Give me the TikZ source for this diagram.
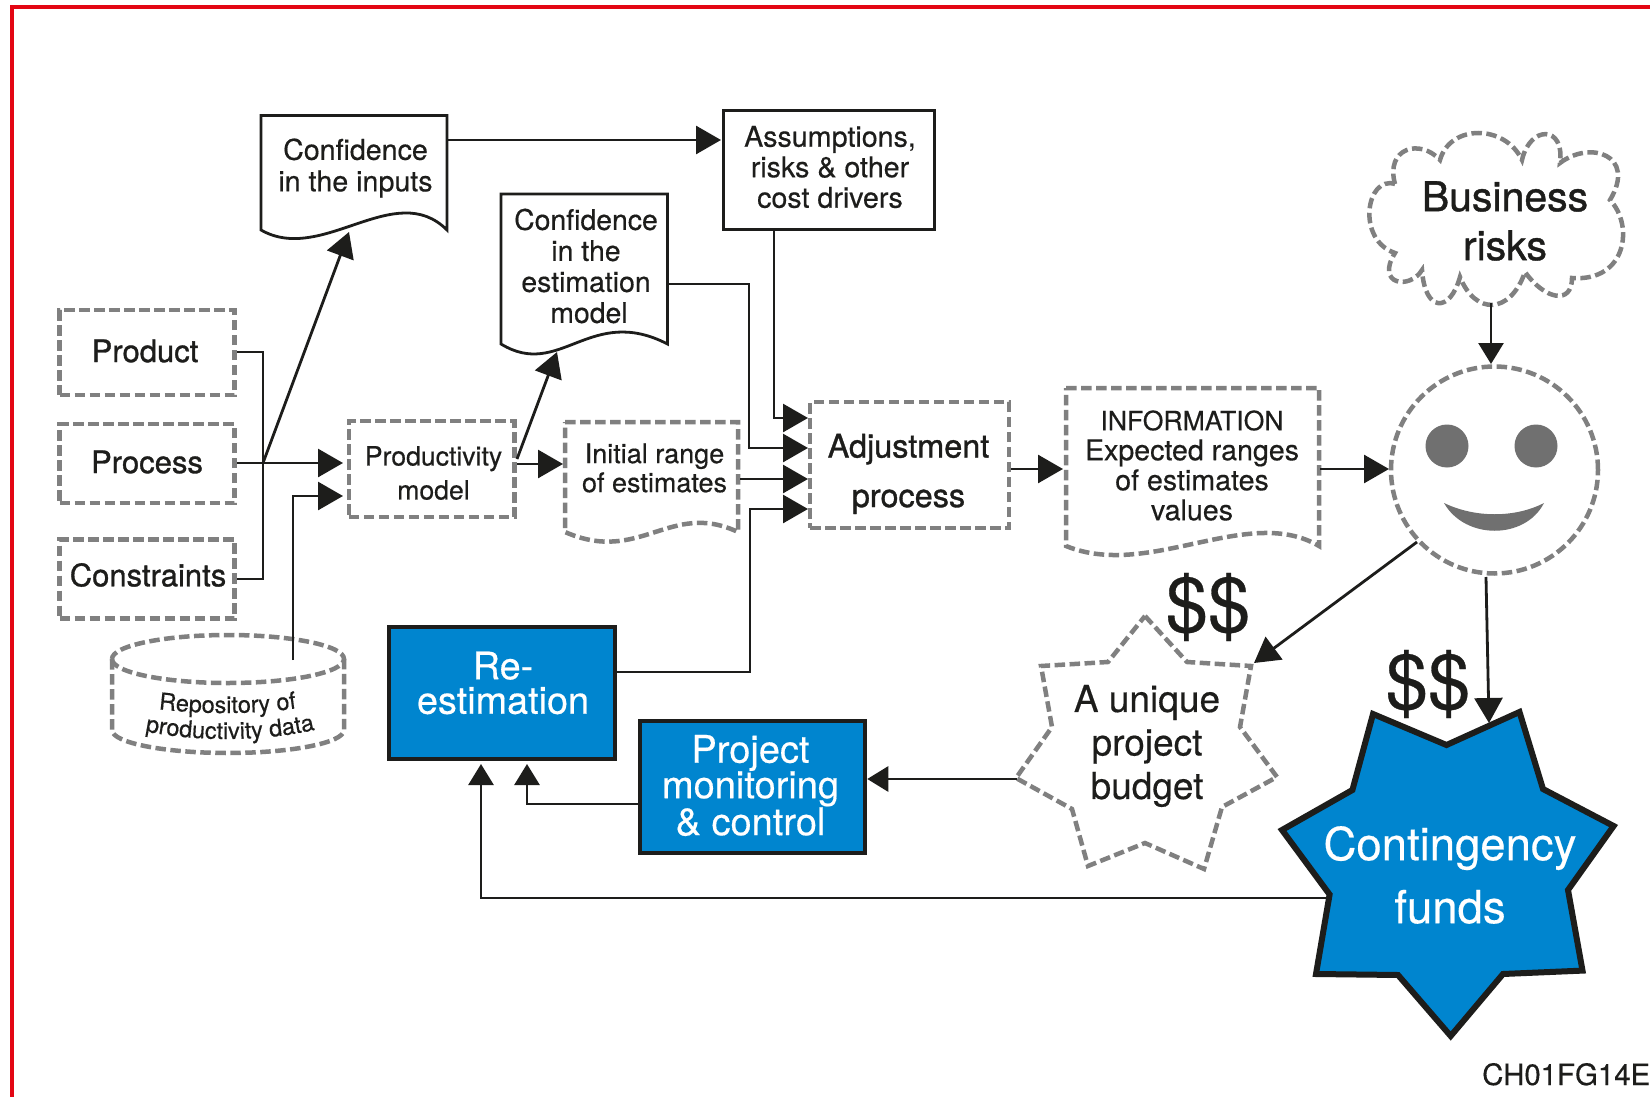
\documentclass[tikz,border=0pt]{standalone}
\usepackage{fontspec}
\setmainfont{TeX Gyre Heros}[FakeBold=0.4]
\newfontfamily\strongfont{TeX Gyre Heros}[FakeBold=1.0]
\usetikzlibrary{arrows.meta,decorations.text,calc}
\definecolor{ink}{HTML}{1D1D1B}
\definecolor{dashgray}{HTML}{808080}
\definecolor{facegray}{HTML}{707070}
\definecolor{boxblue}{HTML}{0085CF}
\definecolor{framered}{HTML}{E30613}
\newcommand{\fs}[2]{\fontsize{#1}{#2}\selectfont}
\tikzset{
  dashline/.style={draw=dashgray,line width=4.5pt,dash pattern=on 10.5pt off 4.5pt},
  dashbox/.style={dashline,rectangle,inner sep=0pt,text=ink,align=center},
  solidbox/.style={draw=ink,line width=3pt,fill=white,rectangle,inner sep=0pt},
  bluebox/.style={draw=ink,line width=4.5pt,fill=boxblue,rectangle,inner sep=0pt,text=white,align=center},
  txt/.style={inner sep=0pt,text=ink,align=center},
  wht/.style={inner sep=0pt,text=white,align=center},
  wire/.style={draw=ink,line width=2.8pt},
  arr/.style={wire,-{Triangle[length=25pt,width=28pt]}},
  arrs/.style={wire,-{Triangle[length=21pt,width=25pt]}},
  docline/.style={draw=ink,line width=2.8pt,fill=white,line join=miter}
}
\begin{document}
\begin{tikzpicture}[x=1pt,y=-1pt,line join=miter]
\useasboundingbox (0,0) rectangle (1650,1097);
\fill[white] (0,0) rectangle (1650,1097);
\draw[framered,line width=3.4pt] (12,1097) -- (12,7) -- (1650,7);

% dashed input boxes
\node[dashbox,minimum width=175pt,minimum height=85pt] (product) at (147,352.5) {};
\node[txt,font=\strongfont\fs{31}{36}] (producttext) at (145,351) {Product};
\node[dashbox,minimum width=175pt,minimum height=79pt] (process) at (147,463.5) {};
\node[txt,font=\strongfont\fs{31}{36}] (processtext) at (147,462) {Process};
\node[dashbox,minimum width=175pt,minimum height=79pt] (constraints) at (147,579) {};
\node[txt,font=\strongfont\fs{31}{36}] (constraintstext) at (148,575) {Constraints};
\node[dashbox,minimum width=165.5pt,minimum height=96pt] (prodmodel) at (431.7,469) {};
\node[txt,font=\fs{26.6}{34}] (prodmodeltext) at (433.5,473) {Productivity\\model};
\node[dashbox,minimum width=199pt,minimum height=126pt] (adjust) at (909.5,465) {};
\node[txt,font=\strongfont\fs{32.4}{49.5}] (adjusttext) at (908.5,474) {Adjustment\\process};
\node[solidbox,minimum width=211pt,minimum height=118pt] (assump) at (828.5,170) {};
\node[txt,font=\fs{28.6}{30.5}] (assumptext) at (830,167) {Assumptions,\\risks \& other\\cost drivers};

% repository cylinder
\draw[dashline] (112,659) arc[start angle=180,end angle=-180,x radius=116,y radius=24];
\draw[dashline] (112,659) -- (112,730) arc[start angle=180,end angle=0,x radius=116,y radius=23] -- (344,659);
\coordinate (repoout) at (293,660);
\path[decorate,decoration={text along path,text align=center,text={|\fs{23.5}{26}\color{ink}|Repository of}}]
  (130,705) .. controls (190,716) and (270,716) .. (325,703);
\path[decorate,decoration={text along path,text align=center,text={|\fs{23.5}{26}\color{ink}|productivity data}}]
  (130,728) .. controls (190,743) and (270,743) .. (330,726);

% document shapes
\draw[docline] (261,115.5) -- (447,115.5) -- (447,230) .. controls (395,178) and (322,265) .. (261,230) -- cycle;
\node[txt,font=\fs{28.6}{31.5}] (confin) at (355.5,168) {Confidence\\in the inputs};
\coordinate (confinR) at (447,140);
\coordinate (confinB) at (349,232);
\draw[docline] (501,194) -- (667.5,194) -- (667.5,344) .. controls (590,304) and (560,380) .. (501,344) -- cycle;
\node[txt,font=\fs{28.4}{31}] (confest) at (586,266) {Confidence\\in the\hspace{7pt}\\estimation\\\hspace{6pt}model};
\coordinate (confestR) at (667.5,284);
\coordinate (confestB) at (557,352);
\draw[dashline] (565,422) -- (738,422) -- (738,532) .. controls (670,500) and (640,565) .. (565,532) -- cycle;
\node[txt,font=\fs{27}{29}] (initial) at (654.5,468) {Initial range\\of estimates};
\coordinate (initialL) at (563,464);
\coordinate (initialR) at (740,479);
\draw[dashline] (1066,388) -- (1319,388) -- (1319,546) .. controls (1248,504) and (1149,580) .. (1066,546) -- cycle;
\node[txt,font=\fs{28.6}{30}] (info) at (1192,465.5) {{\fontsize{26.6}{30}\selectfont INFORMATION}\\Expected ranges\\of estimates\\values};
\coordinate (infoL) at (1063,469);
\coordinate (infoR) at (1320,469);

% cloud
\draw[dashline] (1395,184) .. controls (1385,148) and (1420,138) .. (1440,160)
 .. controls (1450,124) and (1505,124) .. (1522,160)
 .. controls (1530,125) and (1565,125) .. (1560,163)
 .. controls (1590,140) and (1637,155) .. (1610,200)
 .. controls (1634,225) and (1627,282) .. (1572,278)
 .. controls (1572,305) and (1545,300) .. (1525,272)
 .. controls (1510,315) and (1475,315) .. (1460,277)
 .. controls (1450,313) and (1425,313) .. (1422,270)
 .. controls (1410,290) and (1375,285) .. (1395,253)
 .. controls (1356,240) and (1366,175) .. (1395,184);
\node[txt,font=\strongfont\fs{41}{49}] (risks) at (1505,221) {Business\\risks};
\coordinate (risksB) at (1491,303);

% smiley
\node[circle,dashline,minimum size=207pt,inner sep=0pt] (face) at (1494.5,470) {};
\fill[facegray] (1447,446) circle[radius=21.5];
\fill[facegray] (1536,446) circle[radius=21.5];
\fill[facegray] (1444,503) .. controls (1475,518) and (1515,518) .. (1544,503) .. controls (1525,540) and (1465,540) .. (1444,503) -- cycle;
\coordinate (faceT) at (1491,364);
\coordinate (faceL) at (1389,469);
\coordinate (faceSW) at (1417,542);
\coordinate (faceS) at (1486,577);

% budget star
\draw[dashline] (1145,616) -- (1187,662) -- (1251,666) -- (1240,727) -- (1277,777) -- (1222,807) -- (1204,869) -- (1145,843) -- (1088,866) -- (1072,809) -- (1016,778) -- (1052,727) -- (1041,666) -- (1108,662) -- cycle;
\node[txt,font=\fs{37}{43.5}] (budget) at (1147,746) {A unique\\project\\budget};
\coordinate (budgetNE) at (1254,663);
\coordinate (budgetW) at (1017,779);
\node[txt,font=\fs{76}{80}] (d1) at (1208,607) {\$\$};

% contingency star
\draw[draw=ink,line width=6pt,fill=boxblue,line join=miter,miter limit=10] (1373,714) -- (1446.5,745) -- (1519.5,712) -- (1543,789) -- (1613.6,826) -- (1568,890) -- (1582.5,970.6) -- (1503,974) -- (1450.7,1036) -- (1398,975) -- (1316,974) -- (1329.6,894.5) -- (1282,830) -- (1352.4,790) -- cycle;
\node[wht,font=\fs{45.5}{63}] (conting) at (1450,875) {Contingency\\funds};
\coordinate (contingT) at (1489,723);
\coordinate (contingW) at (1330,898);
\node[txt,font=\fs{76}{80}] (d2) at (1428,684) {\$\$};

% blue boxes
\node[bluebox,minimum width=226pt,minimum height=132pt] (reest) at (502,693) {};
\node[wht,font=\fs{37.8}{34.5}] (reesttext) at (503,683) {Re-\\estimation};
\node[bluebox,minimum width=225pt,minimum height=132pt] (monitor) at (752.5,787) {};
\node[wht,font=\fs{38}{35.5}] (monitortext) at (750.5,785.5) {Project\\monitoring\\\& control};

% code
\node[inner sep=0pt,anchor=base west,text=ink,font=\fs{29.4}{32}] (code) at (1482,1085) {CH01FG14E};

% connectors
\coordinate (bus) at (263,463);
\draw[wire] (product.east |- 0,352) -- (263,352) -- (263,579) -- (constraints.east |- 0,579);
\draw[arr] (process.east |- 0,463) -- (343,463);
\draw[arr] (repoout) -- (293,496) -- (343,496);
\draw[arr] (bus) -- (confinB);
\draw[arr] (confinR) -- (721,140);
\draw[arr] (517,459) -- (confestB);
\draw[arr] (517,464) -- (initialL);
\draw[arr] (assump.south -| 774,0) -- (774,418) -- (808,418);
\draw[arr] (confestR) -- (749,284) -- (749,448) -- (808,448);
\draw[arr] (initialR) -- (808,479);
\draw[arr] (reest.east |- 0,672) -- (750,672) -- (750,509) -- (808,509);
\draw[arr] (adjust.east |- infoL) -- (infoL);
\draw[arr] (infoR) -- (faceL);
\draw[arrs] (risksB) -- (faceT);
\draw[arr] (faceSW) -- (budgetNE);
\draw[arr] (faceS) -- (contingT);
\draw[arrs] (budgetW) -- (monitor.east |- budgetW);
\draw[arrs] (monitor.west |- 0,804) -- (527,804) -- (527,764);
\draw[arrs] (contingW) -- (481,898) -- (481,764);
\end{tikzpicture}
\end{document}
